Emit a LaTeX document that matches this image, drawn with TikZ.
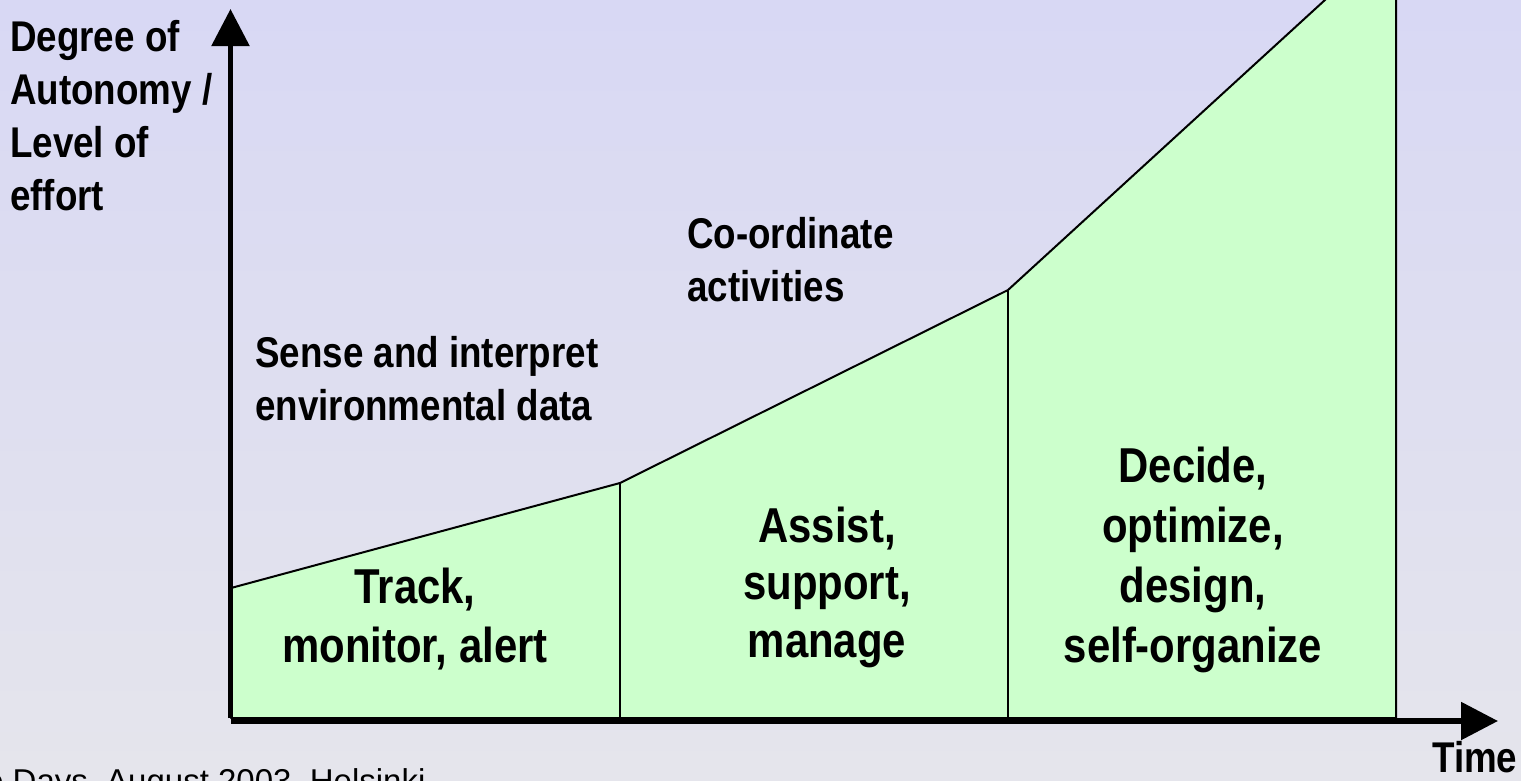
\documentclass[tikz,border=0pt]{standalone}
\usepackage{fontspec}
\setmainfont{Liberation Sans}
\newfontfamily\narrowfont{Liberation Sans}[FakeStretch=0.855]
\usetikzlibrary{arrows.meta}

\definecolor{bgtop}{RGB}{216,216,244}
\definecolor{bgbottom}{RGB}{229,229,236}
\definecolor{phase}{RGB}{204,255,204}

\begin{document}
\begin{tikzpicture}[x=1pt,y=-1pt,
  lbl/.style={inner sep=0pt, align=left, anchor=base west,
    font=\narrowfont\bfseries\fontsize{43}{53}\selectfont},
  big/.style={inner sep=0pt, align=center, anchor=base,
    font=\narrowfont\bfseries\fontsize{49}{59}\selectfont},
  axis/.style={line width=5.5pt, -{Triangle[width=37pt,length=37pt]}},
  edge/.style={line width=2pt, line join=round}]

\clip (0,0) rectangle (1521,780);
\shade[top color=bgtop, bottom color=bgbottom] (0,0) rectangle (1521,780);

% growth curve: three phases, clipped at the top edge
\coordinate (b0) at (231,718);
\coordinate (p0) at (231,588);
\coordinate (p1) at (620,483);
\coordinate (p2) at (1008,290);
\coordinate (p3) at (1396,-65);
\coordinate (b3) at (1396,718);
\coordinate (d1) at (620,718);
\coordinate (d2) at (1008,718);
\filldraw[fill=phase, draw=black, edge] (b0) -- (p0) -- (p1) -- (p2) -- (p3) -- (b3) -- cycle;
\draw[edge] (p1) -- (d1);
\draw[edge] (p2) -- (d2);

% axes
\coordinate (oy) at (230.5,718);
\coordinate (ytip) at (230.5,9);
\coordinate (ox) at (231,721);
\coordinate (xtip) at (1498,721);
\draw[axis] (oy) -- (ytip);
\draw[axis] (ox) -- (xtip);

% axis labels (multi-line nodes are anchored at the baseline of their last line)
\node[lbl] (ylabel) at (10,210) {Degree of\\Autonomy /\\Level of\\effort};
\node[lbl] (xlabel) at (1432,772) {Time};

% descriptions above the curve
\node[lbl] (sense) at (255,420) {Sense and interpret\\environmental data};
\node[lbl] (coord) at (687,301) {Co-ordinate\\activities};

% phase names
\node[big] (track) at (415,662) {Track,\\monitor, alert};
\node[big, font=\narrowfont\bfseries\fontsize{49}{57.5}\selectfont] (assist) at (827,657) {Assist,\\support,\\manage};
\node[big, font=\narrowfont\bfseries\fontsize{49}{60}\selectfont] (decide) at (1193,662) {Decide,\\optimize,\\design,\\self-organize};

% footer
\node[inner sep=0pt, anchor=base west, font=\fontsize{33}{40}\selectfont] (footer) at (-15,792) {o Days, August 2003, Helsinki};
\end{tikzpicture}
\end{document}
